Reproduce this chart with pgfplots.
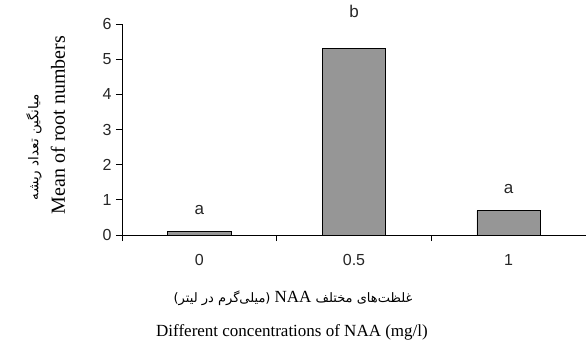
\documentclass[border=0pt]{standalone}
\usepackage{pgfplots}
\pgfplotsset{compat=1.18}
\usepackage{fontspec}
\setmainfont{Liberation Serif}
\newfontfamily\tickfont{Liberation Sans}
\newfontfamily\arabicfont[Script=Arabic]{DejaVu Sans}
\TeXXeTstate=1
\definecolor{bargray}{RGB}{150,150,150}
\begin{document}
\begin{tikzpicture}
\path[use as bounding box] (-122bp,-116bp) rectangle (464bp,235bp);
\begin{axis}[
  at={(0,0)}, anchor=south west,
  scale only axis,
  width=464bp, height=211bp,
  xmin=-0.5, xmax=2.5,
  ymin=0, ymax=6,
  axis lines*=left,
  axis line style={line width=0.8pt, black},
  clip=false,
  tick align=outside,
  major tick length=6bp,
  tick style={line width=0.8pt, black},
  ytick={0,1,2,3,4,5,6},
  xtick={-0.5,0.5,1.5,2.5},
  xticklabels={},
  extra x ticks={0,1,2},
  extra x tick labels={0,0.5,1},
  extra x tick style={major tick length=0pt, xticklabel style={yshift=-16bp}},
  ticklabel style={font=\tickfont\fontsize{16bp}{18bp}\selectfont, text=black!85},
  /pgf/number format/assume math mode=true,
  yticklabel style={xshift=-1bp},
]
\addplot[ybar, bar width=0.41, fill=bargray, draw=black, line width=0.8pt]
  coordinates {(0,0.11) (1,5.3) (2,0.69)};
\addplot[only marks, mark=none, nodes near coords, point meta=explicit symbolic,
  every node near coord/.style={anchor=center, font=\tickfont\fontsize{17bp}{19bp}\selectfont, text=black!85}]
  coordinates {(0,0.71)[a] (1,6.37)[b] (2,1.32)[a]};
\end{axis}
\node[rotate=90, font=\fontsize{20bp}{22bp}\selectfont] at (-64bp,110bp) {Mean of root numbers};
\node[rotate=90, font=\arabicfont\fontsize{13.5bp}{15bp}\selectfont] at (-88bp,88bp) {\beginR میانگین تعداد ریشه\endR};
\node[font=\arabicfont\fontsize{13bp}{15bp}\selectfont] at (171bp,-63bp) {\beginR غلظت‌های مختلف \beginL{\fontsize{17bp}{19bp}\selectfont\rmfamily NAA}\endL{} (میلی‌گرم در لیتر)\endR};
\node[font=\fontsize{17bp}{19bp}\selectfont] at (170bp,-97bp) {Different concentrations of NAA (mg/l)};
\end{tikzpicture}
\end{document}
